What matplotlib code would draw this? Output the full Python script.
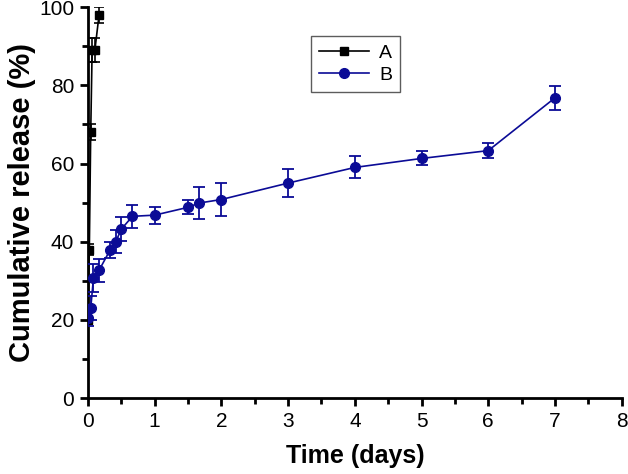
import numpy as np
import matplotlib.pyplot as plt
from matplotlib.ticker import MultipleLocator

plt.rcParams['font.family'] = ['Liberation Sans', 'DejaVu Sans']

# Series A (fast release)
t_a = [0.0, 0.021, 0.042, 0.063, 0.104, 0.167]
y_a = [20.0, 38.0, 68.0, 89.0, 89.0, 98.0]
e_a = [1.0, 1.5, 2.0, 3.0, 3.0, 2.0]

# Series B (sustained release)
t_b = [0.0, 0.042, 0.083, 0.167, 0.333, 0.417, 0.5, 0.667, 1.0, 1.5, 1.667, 2.0, 3.0, 4.0, 5.0, 6.0, 7.0]
y_b = [20.5, 23.0, 30.7, 32.7, 37.9, 40.0, 43.2, 46.5, 46.8, 48.8, 49.9, 50.8, 55.0, 59.0, 61.3, 63.3, 76.8]
e_b = [2.0, 3.0, 3.5, 3.0, 2.0, 3.0, 3.0, 3.0, 2.2, 1.8, 4.0, 4.2, 3.5, 2.8, 1.8, 2.0, 3.0]

fig = plt.figure(figsize=(6.28, 4.74), dpi=100)
ax = fig.add_axes([0.140, 0.160, 0.850, 0.825])

navy = '#0b0b96'
eb_a = ax.errorbar(t_a, y_a, yerr=e_a, color='black', marker='s', markersize=5.5,
                   linewidth=1.2, capsize=3.5, elinewidth=1.2, capthick=1.2, zorder=3)
eb_b = ax.errorbar(t_b, y_b, yerr=e_b, color=navy, marker='o', markersize=7,
                   linewidth=1.2, capsize=4, elinewidth=1.3, capthick=1.3, zorder=4)

ax.set_xlim(0, 8)
ax.set_ylim(0, 100)
ax.xaxis.set_major_locator(MultipleLocator(1))
ax.xaxis.set_minor_locator(MultipleLocator(0.5))
ax.yaxis.set_major_locator(MultipleLocator(20))
ax.yaxis.set_minor_locator(MultipleLocator(10))

for s in ['top', 'right']:
    ax.spines[s].set_visible(False)
for s in ['left', 'bottom']:
    ax.spines[s].set_linewidth(2)
ax.tick_params(which='major', direction='out', length=6, width=2, labelsize=15, pad=4)
ax.tick_params(which='minor', direction='out', length=4, width=2)

ax.set_xlabel('Time (days)', fontsize=18, fontweight='bold', labelpad=9)
ax.set_ylabel('Cumulative release (%)', fontsize=21, fontweight='bold', labelpad=2)

leg = ax.legend([eb_a[0], eb_b[0]], ['A', 'B'], loc='upper left',
                bbox_to_anchor=(0.40, 0.95), fontsize=14,
                frameon=True, fancybox=False, edgecolor='#333333', borderpad=0.4,
                handlelength=2.6, labelspacing=0.25, handletextpad=0.5)
leg.get_frame().set_linewidth(1.0)

fig.savefig('out.png', dpi=100)
